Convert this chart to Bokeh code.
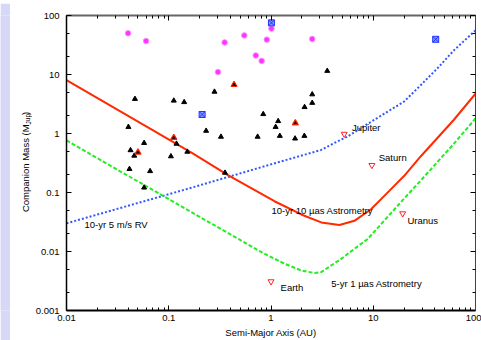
from bokeh.plotting import figure
from bokeh.layouts import column, row
from bokeh.models import LogAxis, FixedTicker, CustomJSTickFormatter, Label
from bokeh.core.properties import value
from bokeh.embed import file_html
from bokeh.resources import INLINE

# ---------------- data ----------------
# RV-detected exoplanets (black triangles)
black_a = [0.0467, 0.112, 0.1415, 0.0403, 0.0574, 0.119, 0.152, 0.0423, 0.046, 0.105,
           0.0413, 0.0657, 0.0574, 3.55, 0.28, 2.53, 2.53, 2.13, 0.84, 1.175,
           1.11, 0.232, 0.324, 0.74, 1.22, 1.72, 2.12, 0.355]
black_m = [3.85, 3.6, 3.4, 1.29, 0.69, 0.67, 0.49, 0.52, 0.42, 0.41,
           0.25, 0.23, 0.121, 11.5, 5.1, 4.6, 3.3, 2.8, 2.13, 1.62,
           1.29, 1.11, 0.88, 0.88, 0.91, 0.82, 0.91, 0.216]
# red-outlined triangles
red_a = [0.112, 0.050, 0.435, 1.73]
red_m = [0.85, 0.48, 6.7, 1.5]
# magenta dots
mag_a = [0.040, 0.060, 1.01, 0.352, 0.548, 0.91, 2.53, 0.71, 0.81, 0.303]
mag_m = [50, 37, 60, 35, 46, 39, 40, 21, 17, 11]
# blue crossed squares
blue_a = [1.01, 0.212, 40.8]
blue_m = [75, 2.1, 39.5]
# solar-system planets
planet_names = ["Earth", "Jupiter", "Saturn", "Uranus"]
planet_a = [1.0, 5.2, 9.7, 19.4]
planet_m = [0.0031, 0.98, 0.29, 0.044]

# detection limit curves
astro10_a = [0.01, 0.1683, 0.383, 1.081, 2.0, 3.10, 4.67, 6.54, 9.51, 13.8, 20.0, 29.2, 42.4, 61.5, 100]
astro10_m = [8.0, 0.47, 0.195, 0.0711, 0.042, 0.0311, 0.0281, 0.0331, 0.0521, 0.0996, 0.190, 0.412, 0.840, 1.71, 4.73]
astro1_a = [0.01, 0.1, 0.48, 0.808, 1.362, 1.98, 2.67, 3.10, 4.86, 6.54, 8.83, 13.8, 20.0, 29.2, 42.4, 61.5, 100]
astro1_m = [0.766, 0.077, 0.0163, 0.00973, 0.00618, 0.00477, 0.00431, 0.00448, 0.0075, 0.0111, 0.0163,
            0.0385, 0.0787, 0.160, 0.329, 0.671, 1.8]
rv_a = [0.01, 0.1683, 1.0, 3.10, 4.18, 5.64, 7.60, 10.25, 20.0, 29.2, 42.4, 61.5, 100]
rv_m = [0.030, 0.121, 0.30, 0.527, 0.692, 0.893, 1.24, 1.71, 3.47, 6.63, 12.7, 25.7, 56]

x_major = [0.01, 0.1, 1, 10, 100]
x_tick_labels = ["0.01", "0.1", "1", "10", "100"]
y_major = [0.001, 0.01, 0.1, 1, 10, 100]
y_tick_labels = ["0.001", "0.01", "0.1", "1", "10", "100"]
x_minor = [m * 10.0 ** k for k in range(-2, 2) for m in range(2, 10)]
y_minor = [m * 10.0 ** k for k in range(-3, 2) for m in (2, 5)]

FONT = "Liberation Sans"
LAVENDER = "#d7d7f7"


def blank(width, height, color, xr=(0, 1), yr=(0, 1)):
    f = figure(width=width, height=height, x_range=xr, y_range=yr,
               output_backend="svg", toolbar_location=None,
               x_axis_location=None, y_axis_location=None,
               min_border=0, min_border_left=0, min_border_right=0,
               min_border_top=0, min_border_bottom=0)
    f.grid.visible = False
    f.outline_line_color = None
    f.background_fill_color = color
    f.border_fill_color = color
    return f


top_strip = blank(481, 3, LAVENDER)
left_strip = blank(10, 337, LAVENDER)
ytitle = blank(22, 337, "white", xr=(0, 22), yr=(0, 337))
# main part ends where the subscript begins
ytitle.text(x=[15], y=[212.6], text=["Companion Mass (M"], angle=1.5708,
            text_font=value(FONT), text_font_size="9.5px", text_color="black",
            text_align="right", text_baseline="alphabetic")
ytitle.text(x=[17.5], y=[212.6], text=["Jup"], angle=1.5708,
            text_font=value(FONT), text_font_size="6.5px", text_color="black",
            text_align="left", text_baseline="alphabetic")
ytitle.text(x=[15], y=[223.3], text=[")"], angle=1.5708,
            text_font=value(FONT), text_font_size="9.5px", text_color="black",
            text_align="left", text_baseline="alphabetic")

p = figure(width=449, height=337, x_axis_type="log", y_axis_type="log",
           x_range=(0.01, 100), y_range=(0.001, 100),
           output_backend="svg", toolbar_location=None,
           min_border_left=32, min_border_right=6, min_border_top=12, min_border_bottom=28)
p.xgrid.visible = False
p.ygrid.visible = False
p.outline_line_color = None
p.background_fill_color = "white"
p.border_fill_color = "white"


def fmt(vals, labs):
    return CustomJSTickFormatter(args=dict(vals=vals, labs=labs),
                                 code="const i = vals.indexOf(tick); return i >= 0 ? labs[i] : '';")


def style(ax, major, minor, labs, lw, color, show, standoff):
    ax.ticker = FixedTicker(ticks=major, minor_ticks=minor)
    ax.formatter = fmt(major, labs)
    ax.major_tick_in = 5
    ax.major_tick_out = 0
    ax.minor_tick_in = 3
    ax.minor_tick_out = 0
    ax.axis_line_width = lw
    ax.axis_line_color = color
    ax.major_tick_line_color = "black"
    ax.minor_tick_line_color = "black"
    ax.major_label_text_font = FONT
    if show:
        ax.major_label_text_color = "black"
        ax.major_label_text_font_size = "9.5px"
        ax.major_label_standoff = standoff
    else:
        ax.major_label_text_color = None
        ax.major_label_text_alpha = 0
        ax.major_label_text_font_size = "0px"
        ax.major_label_standoff = 0


style(p.xaxis[0], x_major, x_minor, x_tick_labels, 2, "black", True, 4)
style(p.yaxis[0], y_major, y_minor, y_tick_labels, 1.5, "black", True, 7)
p.xaxis[0].axis_label = "Semi-Major Axis (AU)"
p.xaxis[0].axis_label_text_font = FONT
p.xaxis[0].axis_label_text_font_size = "9.5px"
p.xaxis[0].axis_label_text_font_style = "normal"
p.xaxis[0].axis_label_text_color = "black"
p.xaxis[0].axis_label_standoff = 3

top = LogAxis()
right = LogAxis()
style(top, x_major, x_minor, x_tick_labels, 2, "#666666", False, 0)
style(right, y_major, y_minor, y_tick_labels, 1, "#444444", False, 0)
p.add_layout(top, "above")
p.add_layout(right, "right")

# curves
p.line(rv_a, rv_m, line_color="#3355ff", line_width=2, line_dash="2 2")
p.line(astro1_a, astro1_m, line_color="#22ee22", line_width=2, line_dash="4 2")
p.line(astro10_a, astro10_m, line_color="#ff2a00", line_width=2)

# points
p.scatter(mag_a, mag_m, marker="circle", size=5.5, fill_color="#ff33ff", line_color="#ff88ff")
p.scatter(black_a, black_m, marker="triangle", size=5, fill_color="black", line_color="black")
p.scatter(red_a, red_m, marker="triangle", size=6, fill_color="black", line_color="#ff2200", line_width=1.2)
p.scatter(blue_a, blue_m, marker="square_x", size=6, fill_color="#8899ff", line_color="#2233ff")
p.scatter(planet_a, planet_m, marker="inverted_triangle", size=6, fill_color="white",
          line_color="#ff2222", line_width=1)


def lab(x, y, t):
    p.add_layout(Label(x=x, y=y, text=t, text_font=FONT, text_font_size="9.5px",
                       text_align="left", text_baseline="middle", text_color="black"))


lab(0.015, 0.029, "10-yr 5 m/s RV")
lab(1.01, 0.050, "10-yr 10 µas Astrometry")
lab(3.88, 0.00292, "5-yr 1 µas Astrometry")
lab(6.2, 1.25, planet_names[1])
lab(11.3, 0.396, planet_names[2])
lab(21.6, 0.034, planet_names[3])
lab(1.24, 0.00247, planet_names[0])

layout = column(top_strip, row(left_strip, ytitle, p))
open("out.html", "w").write(file_html(layout, INLINE))
